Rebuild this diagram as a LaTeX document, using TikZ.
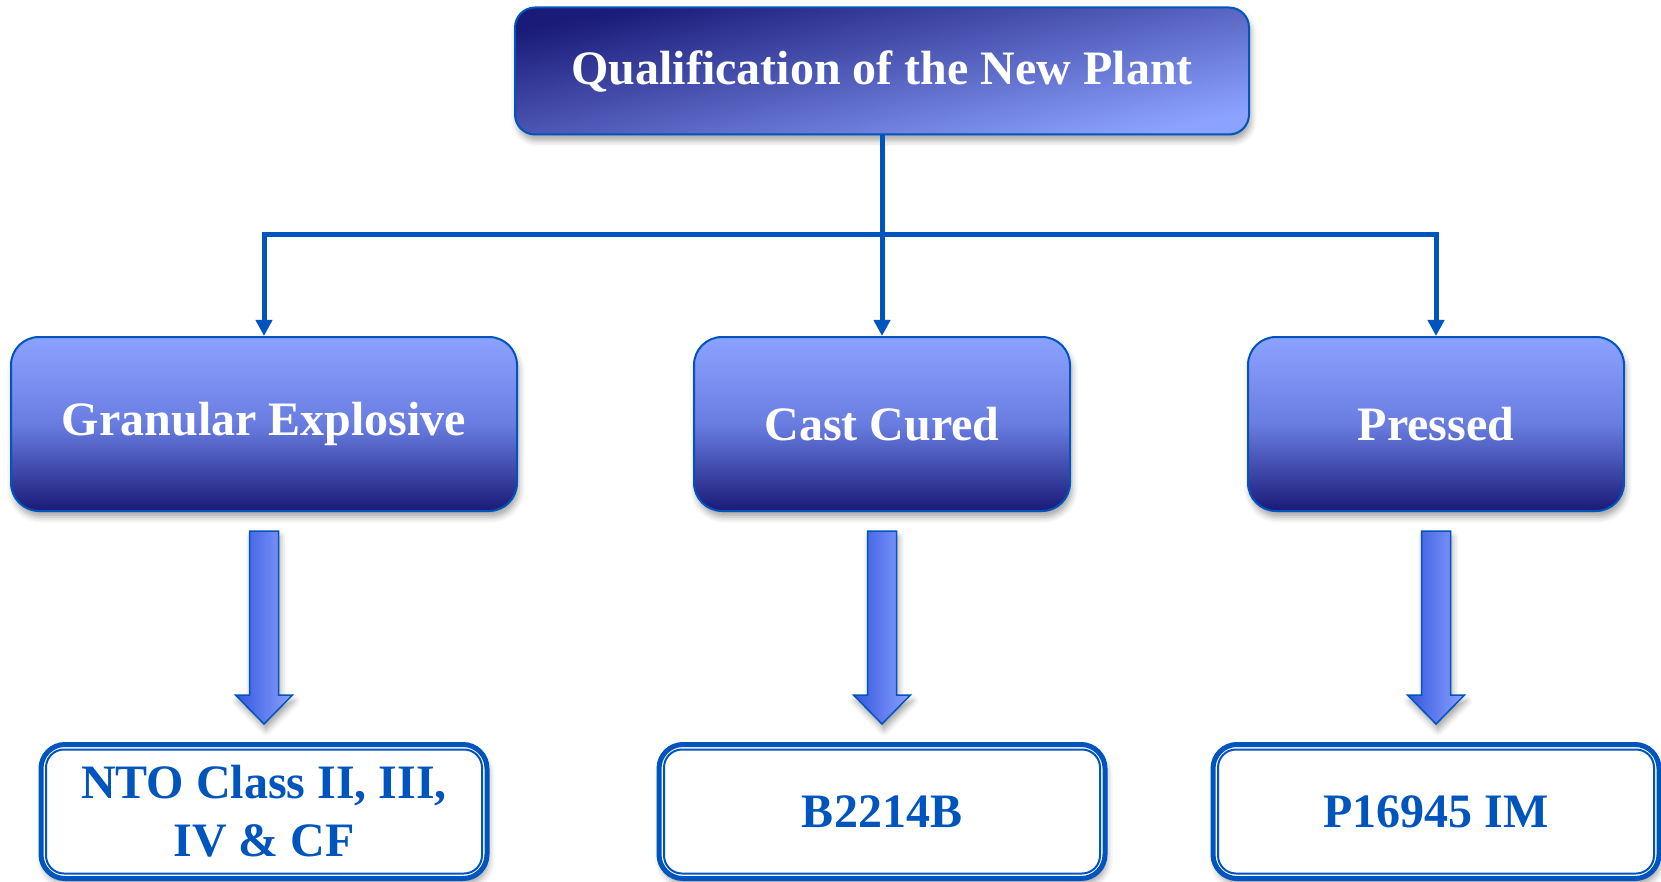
\documentclass[tikz,border=0pt]{standalone}
\usepackage{fontspec}
\setmainfont{Liberation Serif}
\usetikzlibrary{shapes,arrows.meta,positioning,calc,shadows.blur}

\definecolor{lineblue}{RGB}{0,84,190}
\definecolor{navy}{RGB}{26,26,120}
\definecolor{peri}{RGB}{140,162,255}
\definecolor{midperi}{RGB}{105,125,225}
\definecolor{arrowdark}{RGB}{52,86,222}

\begin{document}
\begin{tikzpicture}[
    x=1pt, y=-1pt,
    >={Triangle[length=16pt,width=16pt]},
    every node/.style={align=center, font=\fontsize{48}{58}\selectfont\bfseries}
]
\useasboundingbox (0,0) rectangle (1661,882);

% Define styles
\tikzstyle{softshadow} = [blur shadow={shadow xshift=2pt, shadow yshift=-6pt,
    shadow blur radius=6pt, shadow opacity=35}]
\tikzstyle{topblock} = [rectangle, draw=lineblue, line width=2pt, text=white,
    rounded corners=20pt, minimum width=734pt, minimum height=127pt,
    top color=navy, bottom color=peri, shading angle=12, softshadow]
\tikzstyle{block} = [rectangle, draw=lineblue, line width=2pt, text=white,
    rounded corners=28pt, minimum width=376pt, minimum height=174pt,
    top color=peri, bottom color=navy, middle color=midperi, softshadow]
\tikzstyle{result} = [rectangle, draw=lineblue, line width=5pt, fill=white,
    text=lineblue, rounded corners=24pt, minimum width=446pt,
    minimum height=134pt, softshadow]
\tikzstyle{inner} = [draw=lineblue, line width=2pt, rounded corners=18pt]
\tikzstyle{link} = [draw=lineblue, line width=5pt]
\tikzstyle{bigarrow} = [draw=lineblue, line width=1.5pt, left color=arrowdark,
    right color=peri, softshadow]

% Nodes
\node [topblock] (plant) at (882,71) {Qualification of the New Plant};
\node [block] (cast) at (882,424) {Cast Cured};
\node [block, minimum width=506pt, left=175pt of cast] (gran) {Granular Explosive};
\node [block, right=176pt of cast] (press) {Pressed};
\node [result, below=230pt of gran] (nto) {NTO Class II, III,\\IV \& CF};
\node [result, below=230pt of cast] (bcast) {B2214B};
\node [result, below=230pt of press] (pim) {P16945 IM};
\coordinate (split) at (882,235);

% Inner rims of the result boxes
\foreach \n in {nto,bcast,pim}
    \draw [inner] ($(\n.south west)+(7.5,-7.5)$) rectangle ($(\n.north east)+(-7.5,7.5)$);

% Paths
\draw [link] (plant.south) -- (split);
\foreach \n in {gran,cast,press}
    \draw [link, ->] (split) -| (\n.north);

% Block arrows
\foreach \n in {gran,cast,press}
    \path [bigarrow] ($(\n.south)+(-14.5,19)$) -- ++(0,164) -- ++(-14,0)
        -- ++(28.5,29) -- ++(28.5,-29) -- ++(-14,0) -- ++(0,-164) -- cycle;

\end{tikzpicture}
\end{document}
